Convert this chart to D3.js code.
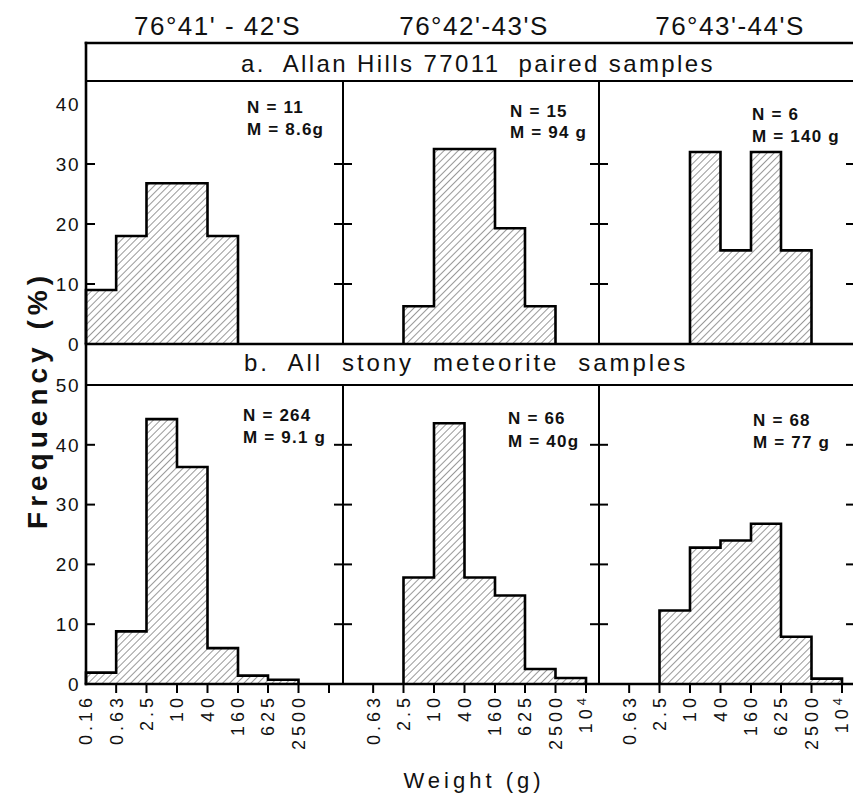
<!DOCTYPE html>
<html><head><meta charset="utf-8">
<script src="https://cdn.jsdelivr.net/npm/d3@7"></script>
<style>
body{margin:0;background:#fff;}
text{font-family:"Liberation Sans",Arial,sans-serif;fill:#111;}
</style></head>
<body>
<script>
// ---------- data ----------
const latitudes = ["76°41' - 42'S", "76°42'-43'S", "76°43'-44'S"];
const sectionTitles = ["a.  Allan Hills 77011  paired samples", "b.  All  stony  meteorite  samples"];
const binEdges = [0.16, 0.63, 2.5, 10, 40, 160, 625, 2500, 10000];
const tickLabelsFirst = ["0.16", "0.63", "2.5", "10", "40", "160", "625", "2500", ""];
const tickLabelsOther = ["", "0.63", "2.5", "10", "40", "160", "625", "2500", "10^4"];
const freqA1 = [9.0, 18.0, 26.8, 26.8, 18.0, 0, 0, 0];
const freqA2 = [0, 0, 6.3, 32.5, 32.5, 19.3, 6.3, 0];
const freqA3 = [0, 0, 0, 32.0, 15.6, 32.0, 15.6, 0];
const freqB1 = [1.9, 8.8, 44.3, 36.3, 6.0, 1.4, 0.7, 0];
const freqB2 = [0, 0, 17.8, 43.6, 17.8, 14.8, 2.5, 1.0];
const freqB3 = [0, 0, 12.3, 22.8, 24.0, 26.8, 7.9, 0.9];
const nLabelsA = ["N = 11", "N = 15", "N = 6"];
const mLabelsA = ["M = 8.6g", "M = 94 g", "M = 140 g"];
const nLabelsB = ["N = 264", "N = 66", "N = 68"];
const mLabelsB = ["M = 9.1 g", "M = 40g", "M = 77 g"];
const yTicksA = [0, 10, 20, 30, 40];
const yTicksB = [0, 10, 20, 30, 40, 50];

// ---------- layout ----------
const W = 853, H = 794;
const svg = d3.select("body").append("svg").attr("width", W).attr("height", H);
const defs = svg.append("defs");
const pat = defs.append("pattern").attr("id", "hatch").attr("patternUnits", "userSpaceOnUse")
  .attr("width", 5).attr("height", 5).attr("patternTransform", "rotate(45)");
pat.append("line").attr("x1", 0).attr("y1", 0).attr("x2", 0).attr("y2", 5)
  .attr("stroke", "#333").attr("stroke-width", 1);

const panelLeft = [86, 343, 599];
const panelRight = [343, 599, 855];
const topY = 43, bandAB = 81, aBottom = 344, bandBB = 385, bBottom = 684;
const yA = d3.scaleLinear().domain([0, 40]).range([aBottom, 104]);
const yB = d3.scaleLinear().domain([0, 50]).range([bBottom, bandBB]);
const xScales = panelLeft.map(l => d3.scaleLog().domain([0.16, 10000]).range([l, l + 243]));

const lw = 2.6;
const g = svg.append("g");

function hist(xs, ys, freq) {
  const bins = freq.map((v, i) => ({lo: binEdges[i], hi: binEdges[i + 1], v}));
  g.append("g").selectAll("rect").data(bins.filter(b => b.v > 0)).join("rect")
    .attr("x", b => xs(b.lo)).attr("width", b => xs(b.hi) - xs(b.lo))
    .attr("y", b => ys(b.v)).attr("height", b => ys(0) - ys(b.v))
    .attr("fill", "url(#hatch)");
  let run = [];
  const runs = [];
  bins.forEach(b => { if (b.v > 0) run.push(b); else if (run.length) { runs.push(run); run = []; } });
  if (run.length) runs.push(run);
  runs.forEach(r => {
    const pts = [[xs(r[0].lo), ys(0)]];
    r.forEach(b => { pts.push([xs(b.lo), ys(b.v)]); pts.push([xs(b.hi), ys(b.v)]); });
    pts.push([xs(r[r.length - 1].hi), ys(0)]);
    g.append("path").attr("d", d3.line()(pts)).attr("fill", "none")
      .attr("stroke", "#000").attr("stroke-width", lw).attr("stroke-linejoin", "miter");
  });
}

[freqA1, freqA2, freqA3].forEach((f, i) => hist(xScales[i], yA, f));
[freqB1, freqB2, freqB3].forEach((f, i) => hist(xScales[i], yB, f));

const line = (x1, y1, x2, y2, w) => g.append("line").attr("x1", x1).attr("y1", y1).attr("x2", x2).attr("y2", y2)
  .attr("stroke", "#000").attr("stroke-width", w || lw).attr("stroke-linecap", "square");
line(86, topY, W, topY);
line(86, bandAB, W, bandAB, 2);
line(86, aBottom, W, aBottom);
line(86, bandBB, W, bandBB, 2);
line(86, bBottom, W, bBottom);
line(86, topY, 86, bBottom);
[343, 599, 855].forEach(x => { line(x, bandAB, x, aBottom, 2); line(x, bandBB, x, bBottom, 2); });

const tl = 8;
function yTicks(ys, ticks) {
  ticks.forEach(t => {
    const y = ys(t);
    if (t > 0 && y > ys.range()[1] + 2) {
      line(86, y, 86 + tl, y, 2);
      [343, 599].forEach(x => line(x - tl, y, x + tl, y, 2));
      line(855 - tl, y, 855, y, 2);
    }
    g.append("text").attr("x", 80).attr("y", y).attr("dy", "0.36em").attr("text-anchor", "end")
      .attr("font-size", 19).attr("letter-spacing", 1.5).text(t);
  });
}
yTicks(yA, yTicksA);
yTicks(yB, yTicksB);

xScales.forEach((xs, i) => {
  const labels = i === 0 ? tickLabelsFirst : tickLabelsOther;
  binEdges.forEach((e, k) => {
    const x = xs(e);
    if (k > 0) line(x, bBottom, x, bBottom + 8, 2);
    const lab = labels[k];
    if (!lab) return;
    const t = g.append("text").attr("transform", `translate(${x},${bBottom + 10}) rotate(-90)`)
      .attr("text-anchor", "end").attr("dy", "0.36em").attr("font-size", 18).attr("letter-spacing", 4);
    if (lab === "10^4") {
      t.append("tspan").text("10");
      t.append("tspan").attr("font-size", 13).attr("dy", "-0.5em").text("4");
    } else t.text(lab);
  });
});

latitudes.forEach((s, i) => {
  g.append("text").attr("x", (panelLeft[i] + panelRight[i]) / 2 + 3).attr("y", 35)
    .attr("text-anchor", "middle").attr("font-size", 26).attr("letter-spacing", 1.5).text(s);
});
g.append("text").attr("x", 478).attr("y", 72).attr("text-anchor", "middle")
  .attr("font-size", 24).attr("letter-spacing", 2.4).attr("xml:space", "preserve").text(sectionTitles[0]);
g.append("text").attr("x", 466).attr("y", 371).attr("text-anchor", "middle")
  .attr("font-size", 24).attr("letter-spacing", 2.9).attr("xml:space", "preserve").text(sectionTitles[1]);

const annA = [[247, 113, 135], [510, 117, 138], [752, 120, 142]];
const annB = [[243, 421, 443], [508, 424, 447], [753, 426, 448]];
function ann(pos, ns, ms) {
  pos.forEach((p, i) => {
    g.append("text").attr("x", p[0]).attr("y", p[1]).attr("font-size", 17).attr("font-weight", "bold")
      .attr("letter-spacing", 1.2).text(ns[i]);
    g.append("text").attr("x", p[0]).attr("y", p[2]).attr("font-size", 17).attr("font-weight", "bold")
      .attr("letter-spacing", 1.2).text(ms[i]);
  });
}
ann(annA, nLabelsA, mLabelsA);
ann(annB, nLabelsB, mLabelsB);

g.append("text").attr("transform", "translate(47,400) rotate(-90)").attr("text-anchor", "middle")
  .attr("font-size", 28).attr("font-weight", "bold").attr("letter-spacing", 5).text("Frequency (%)");
g.append("text").attr("x", 474).attr("y", 788).attr("text-anchor", "middle")
  .attr("font-size", 22).attr("letter-spacing", 4).text("Weight (g)");
</script>
</body></html>
